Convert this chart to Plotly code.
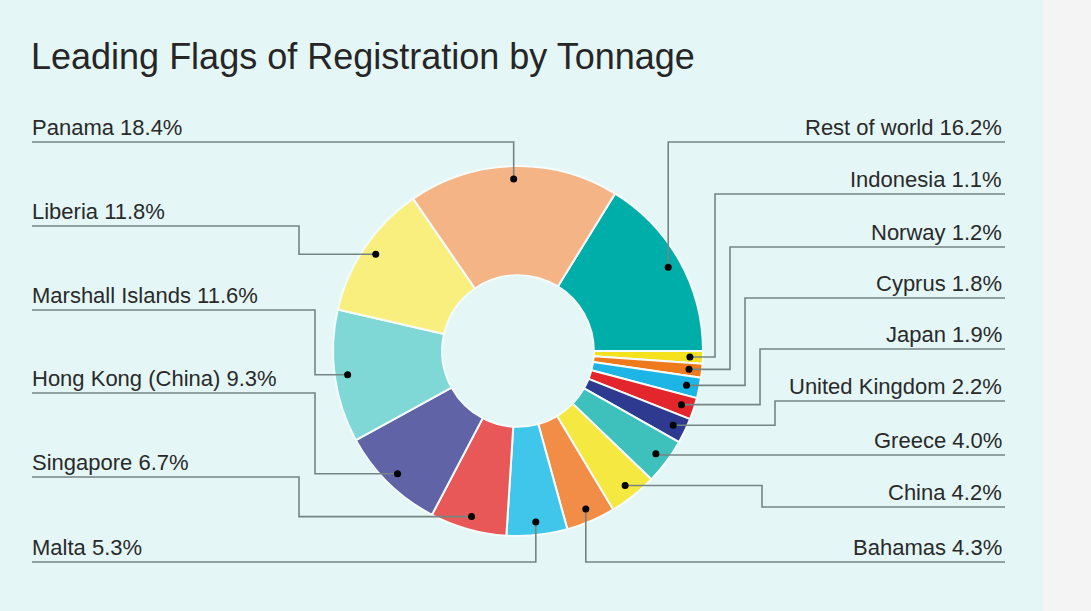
import math
import plotly.graph_objects as go

# ---- data ----
flags = ["Rest of world", "Indonesia", "Norway", "Cyprus", "Japan", "United Kingdom",
         "Greece", "China", "Bahamas", "Malta", "Singapore", "Hong Kong (China)",
         "Marshall Islands", "Liberia", "Panama"]
shares = [16.2, 1.1, 1.2, 1.8, 1.9, 2.2, 4.0, 4.2, 4.3, 5.3, 6.7, 9.3, 11.6, 11.8, 18.4]
colors = ["#00aea9", "#f3e21d", "#ee7a1c", "#1db4e6", "#e3262b", "#2d3a8f",
          "#3ec0bd", "#f4e841", "#f18d46", "#3fc6ea", "#e85858", "#6063a6",
          "#7fd7d6", "#f9ef7f", "#f5b486"]
title = "Leading Flags of Registration by Tonnage"

# ---- layout constants (pixels) ----
W, H = 1091, 611
CX, CY, R = 518, 351, 185
HOLE = 0.41
DOT_R = 172
ROT = 31.68
# label placement: side, line y, elbow x (None = straight down/up to dot)
placement = {
    "Panama": ("L", 142, None),
    "Liberia": ("L", 226, 299),
    "Marshall Islands": ("L", 310, 315),
    "Hong Kong (China)": ("L", 393, 315),
    "Singapore": ("L", 477, 299),
    "Malta": ("L", 562, None),
    "Rest of world": ("R", 142, None),
    "Indonesia": ("R", 194, 715),
    "Norway": ("R", 247, 730),
    "Cyprus": ("R", 298, 745),
    "Japan": ("R", 349, 760),
    "United Kingdom": ("R", 401, 775),
    "Greece": ("R", 455, None),
    "China": ("R", 507, 762),
    "Bahamas": ("R", 562, None),
}
LEFT_X, RIGHT_X = 32, 1005
LINE_COLOR = "#758585"
TEXT_COLOR = "#2a2a2a"
FONT = "Liberation Sans, Arial, sans-serif"

fig = go.Figure()

fig.add_trace(go.Pie(
    labels=flags, values=shares, sort=False, direction="clockwise",
    rotation=ROT, hole=HOLE,
    marker=dict(colors=colors, line=dict(color="#f4fcfc", width=2)),
    textinfo="none", hoverinfo="label+percent", showlegend=False,
    domain=dict(x=[(CX - R) / W, (CX + R) / W],
                y=[(H - CY - R) / H, (H - CY + R) / H]),
))

# slice mid angles from the data
total = sum(shares)
shapes = []
annotations = []
cum = 0.0
for name, v in zip(flags, shares):
    mid = ROT + (cum + v / 2) / total * 360.0
    cum += v
    a = math.radians(mid)
    dx = CX + DOT_R * math.sin(a)
    dy = CY - DOT_R * math.cos(a)
    side, ly, ex = placement[name]
    x0 = LEFT_X if side == "L" else RIGHT_X
    if ex is None:
        ex = dx
    path = f"M {x0},{ly} L {ex},{ly} L {ex},{dy} L {dx},{dy}"
    shapes.append(dict(type="path", path=path, xref="x", yref="y", layer="above",
                       line=dict(color=LINE_COLOR, width=1.6)))
    shapes.append(dict(type="circle", xref="x", yref="y", layer="above",
                       x0=dx - 3.5, x1=dx + 3.5, y0=dy - 3.5, y1=dy + 3.5,
                       fillcolor="black", line=dict(width=0)))
    annotations.append(dict(
        x=LEFT_X - 2 if side == "L" else RIGHT_X - 1, y=ly - 15,
        xref="x", yref="y", xanchor="left" if side == "L" else "right", yanchor="middle",
        text=f"{name} {v:.1f}%", showarrow=False,
        font=dict(family=FONT, size=22, color=TEXT_COLOR)))

# right grey strip
shapes.insert(0, dict(type="rect", xref="x", yref="y", x0=1043, x1=W, y0=0, y1=H,
                      fillcolor="#f4f4f4", line=dict(width=0), layer="below"))

annotations.append(dict(x=29, y=56, xref="x", yref="y", xanchor="left", yanchor="middle",
                        text=title, showarrow=False,
                        font=dict(family=FONT, size=36, color="#262626")))

fig.update_layout(
    width=W, height=H, margin=dict(l=0, r=0, t=0, b=0),
    paper_bgcolor="#e4f6f6", plot_bgcolor="rgba(0,0,0,0)",
    xaxis=dict(range=[0, W], visible=False, fixedrange=True, domain=[0, 1]),
    yaxis=dict(range=[H, 0], visible=False, fixedrange=True, domain=[0, 1]),
    shapes=shapes, annotations=annotations, showlegend=False,
)

fig.write_html("out.html", config={"displayModeBar": False})
